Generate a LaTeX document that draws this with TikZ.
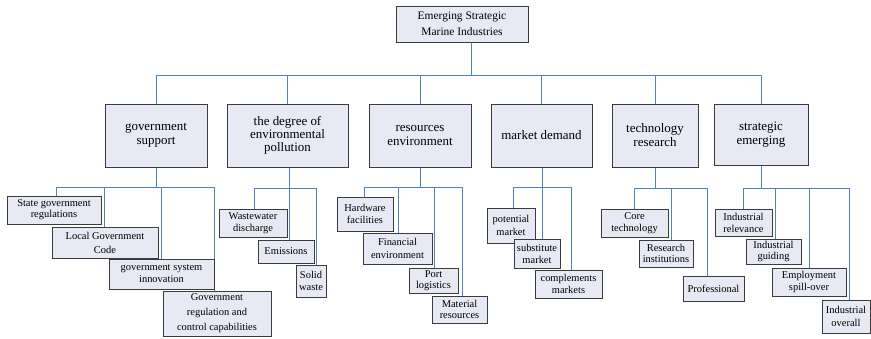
\documentclass[tikz,border=0pt]{standalone}
\usepackage{fontspec}
\setmainfont{Liberation Serif}
\usetikzlibrary{shadows}
\pgfdeclarelayer{bg}
\pgfsetlayers{bg,main}
\definecolor{boxfill}{RGB}{231,234,244}
\definecolor{boxedge}{RGB}{60,60,60}
\definecolor{linkblue}{RGB}{84,130,192}

\begin{document}
\begin{tikzpicture}[x=1bp,y=-1bp,
  box/.style={draw=boxedge, fill=boxfill, line width=0.7bp, inner sep=1bp,
    align=center, anchor=center,
    general shadow={shadow xshift=0.9bp, shadow yshift=-0.9bp, fill=boxedge}},
  topbox/.style={box, font=\fontsize{11.5}{16}\selectfont},
  midbox/.style={box, font=\fontsize{13}{14}\selectfont},
  subbox/.style={box, font=\fontsize{10.5}{12.5}\selectfont},
  link/.style={draw=linkblue, line width=0.9bp}]
\useasboundingbox (0,0) rectangle (871,338);

% root
\node[topbox, minimum width=132bp, minimum height=36bp] (top) at (462,24) {Emerging Strategic\\Marine Industries};

% first level
\node[midbox, minimum width=102bp, minimum height=63bp] (gs) at (156,135.5) {government\\support};
\node[midbox, minimum width=121bp, minimum height=63bp, font=\fontsize{13}{13.3}\selectfont] (dp) at (287.5,135.5) {the degree of\\environmental\\pollution};
\node[midbox, minimum width=102bp, minimum height=63bp] (re) at (420,135.5) {resources\\environment};
\node[midbox, minimum width=101bp, minimum height=63bp] (md) at (541.5,135.5) {market demand};
\node[midbox, minimum width=86bp, minimum height=63bp] (tr) at (655,135.5) {technology\\research};
\node[midbox, minimum width=94bp, minimum height=61bp] (se) at (761,134.5) {strategic\\emerging};

% government support
\node[subbox, minimum width=94bp, minimum height=28bp, font=\fontsize{10.5}{11}\selectfont] (s11) at (54,210) {State government\\regulations};
\node[subbox, minimum width=106bp, minimum height=31bp, font=\fontsize{10.5}{14}\selectfont] (s12) at (105,242.5) {Local Government\\Code};
\node[subbox, minimum width=105bp, minimum height=30bp, font=\fontsize{10.5}{12}\selectfont] (s13) at (161.5,274) {government system\\innovation};
\node[subbox, minimum width=108bp, minimum height=45bp, font=\fontsize{10.5}{15}\selectfont] (s14) at (217,313.5) {Government\\regulation and\\control capabilities};

% degree of environmental pollution
\node[subbox, minimum width=68bp, minimum height=28bp, font=\fontsize{10.5}{11.5}\selectfont] (s21) at (253,223) {Wastewater\\discharge};
\node[subbox, minimum width=56bp, minimum height=23bp] (s22) at (286,251.5) {Emissions};
\node[subbox, minimum width=30bp, minimum height=32bp] (s23) at (311,281) {Solid\\waste};

% resources environment
\node[subbox, minimum width=56bp, minimum height=34bp] (s31) at (365,214) {Hardware\\facilities};
\node[subbox, minimum width=69bp, minimum height=31bp] (s32) at (397.5,248.5) {Financial\\environment};
\node[subbox, minimum width=49bp, minimum height=25bp, font=\fontsize{10.5}{11.5}\selectfont] (s33) at (433.5,280.5) {Port\\logistics};
\node[subbox, minimum width=55bp, minimum height=27bp, font=\fontsize{10.5}{11.5}\selectfont] (s34) at (459.5,309.5) {Material\\resources};

% market demand
\node[subbox, minimum width=48bp, minimum height=35bp] (s41) at (511,225.5) {potential\\market};
\node[subbox, minimum width=46bp, minimum height=29bp, font=\fontsize{10.5}{12}\selectfont] (s42) at (537,253.5) {substitute\\market};
\node[subbox, minimum width=67bp, minimum height=28bp, font=\fontsize{10.5}{12}\selectfont] (s43) at (568.5,284) {complements\\markets};

% technology research
\node[subbox, minimum width=67bp, minimum height=28bp, font=\fontsize{10.5}{12}\selectfont] (s51) at (634.5,223) {Core\\technology};
\node[subbox, minimum width=54bp, minimum height=27bp, font=\fontsize{10.5}{11.5}\selectfont] (s52) at (666,253.5) {Research\\institutions};
\node[subbox, minimum width=61bp, minimum height=25bp] (s53) at (713.5,288.5) {Professional};

% strategic emerging
\node[subbox, minimum width=57bp, minimum height=27bp, font=\fontsize{10.5}{12}\selectfont] (s61) at (743.5,222.5) {Industrial\\relevance};
\node[subbox, minimum width=55bp, minimum height=25bp, font=\fontsize{10.5}{11.5}\selectfont] (s62) at (773.5,251.5) {Industrial\\guiding};
\node[subbox, minimum width=74bp, minimum height=28bp, font=\fontsize{10.5}{12}\selectfont] (s63) at (809,282) {Employment\\spill-over};
\node[subbox, minimum width=48bp, minimum height=33bp, font=\fontsize{10.5}{13}\selectfont] (s64) at (846,316.5) {Industrial\\overall};

% connectors
\coordinate (hub) at (471,75);
\coordinate (g1) at (56,187);  \coordinate (g2) at (104,187); \coordinate (g3) at (161,187); \coordinate (g4) at (214,187);
\coordinate (d1) at (254,188); \coordinate (d2) at (289,188); \coordinate (d3) at (316,188);
\coordinate (r1) at (364,187); \coordinate (r2) at (398,187); \coordinate (r3) at (434,187); \coordinate (r4) at (462,187);
\coordinate (m1) at (513,187); \coordinate (m2) at (542,187); \coordinate (m3) at (571,187);
\coordinate (t1) at (634,188); \coordinate (t2) at (671,188); \coordinate (t3) at (707,188);
\coordinate (e1) at (743,188); \coordinate (e2) at (775,188); \coordinate (e3) at (809,188); \coordinate (e4) at (849,188);

\begin{pgfonlayer}{bg}
  \draw[link] (top.south -| hub) -- (hub);
  \draw[link] (gs.north |- hub) -- (se.north |- hub);
  \foreach \n in {gs,dp,re,md,tr,se} \draw[link] (\n.north |- hub) -- (\n.north);

  \draw[link] (gs.south) -- (gs.south |- g1);
  \draw[link] (g1) -- (g4);
  \draw[link] (g1) -- (g1 |- s11.north);
  \draw[link] (g2) -- (g2 |- s12.north);
  \draw[link] (g3) -- (g3 |- s13.north);
  \draw[link] (g4) -- (g4 |- s14.north);

  \draw[link] (dp.south -| d2) -- (d2);
  \draw[link] (d1) -- (d3);
  \draw[link] (d1) -- (d1 |- s21.north);
  \draw[link] (d2) -- (d2 |- s22.north);
  \draw[link] (d3) -- (d3 |- s23.north);

  \draw[link] (re.south) -- (re.south |- r1);
  \draw[link] (r1) -- (r4);
  \draw[link] (r1) -- (r1 |- s31.north);
  \draw[link] (r2) -- (r2 |- s32.north);
  \draw[link] (r3) -- (r3 |- s33.north);
  \draw[link] (r4) -- (r4 |- s34.north);

  \draw[link] (md.south -| m2) -- (m2);
  \draw[link] (m1) -- (m3);
  \draw[link] (m1) -- (m1 |- s41.north);
  \draw[link] (m2) -- (m2 |- s42.north);
  \draw[link] (m3) -- (m3 |- s43.north);

  \draw[link] (tr.south) -- (tr.south |- t1);
  \draw[link] (t1) -- (t3);
  \draw[link] (t1) -- (t1 |- s51.north);
  \draw[link] (t2) -- (t2 |- s52.north);
  \draw[link] (t3) -- (t3 |- s53.north);

  \draw[link] (se.south) -- (se.south |- e1);
  \draw[link] (e1) -- (e4);
  \draw[link] (e1) -- (e1 |- s61.north);
  \draw[link] (e2) -- (e2 |- s62.north);
  \draw[link] (e3) -- (e3 |- s63.north);
  \draw[link] (e4) -- (e4 |- s64.north);
\end{pgfonlayer}
\end{tikzpicture}
\end{document}
